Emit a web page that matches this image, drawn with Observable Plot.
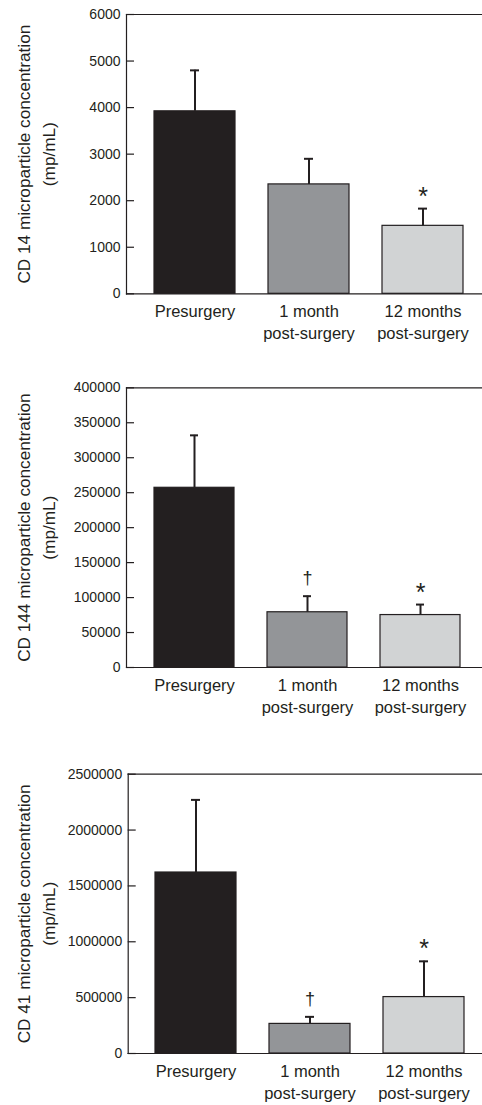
<!DOCTYPE html>
<html>
<head>
<meta charset="utf-8">
<script src="https://cdn.jsdelivr.net/npm/d3@7"></script>
<script src="https://cdn.jsdelivr.net/npm/@observablehq/plot@0.6"></script>
<style>
  body { margin: 0; background: #fff; }
  #charts svg { display: block; }
</style>
</head>
<body>
<div id="charts"></div>
<script>
// Time points shared by the three panels
const groups = ["Presurgery", "1 month\npost-surgery", "12 months\npost-surgery"];
const fills = ["#231f20", "#939598", "#d1d3d4"];

// CD 14 microparticles (mp/mL): mean and error
const cd14Mean = [3920, 2350, 1460];
const cd14Err = [880, 550, 370];
const cd14Sig = ["", "", "*"];
const cd14Ticks = [0, 1000, 2000, 3000, 4000, 5000, 6000];

// CD 144 microparticles (mp/mL)
const cd144Mean = [257000, 79000, 75000];
const cd144Err = [75000, 23000, 15000];
const cd144Sig = ["", "\u2020", "*"];
const cd144Ticks = [0, 50000, 100000, 150000, 200000, 250000, 300000, 350000, 400000];

// CD 41 microparticles (mp/mL)
const cd41Mean = [1620000, 265000, 505000];
const cd41Err = [650000, 63000, 320000];
const cd41Sig = ["", "\u2020", "*"];
const cd41Ticks = [0, 500000, 1000000, 1500000, 2000000, 2500000];

const ink = "#231f20";
const font = "'Liberation Sans', Arial, Helvetica, sans-serif";

function panel({title, mean, err, sig, ticks, height, marginTop, marginBottom, marginLeft, xRange}) {
  const rows = groups.map((g, i) => ({
    group: g, mean: mean[i], upper: mean[i] + err[i], sig: sig[i], fill: fills[i]
  }));
  const stars = rows.filter(d => d.sig === "*");
  const daggers = rows.filter(d => d.sig === "\u2020");
  return Plot.plot({
    width: 482,
    height,
    marginTop,
    marginBottom,
    marginLeft,
    marginRight: 0,
    style: {fontFamily: font, color: ink, background: "#fff", overflow: "visible"},
    x: {domain: groups, range: xRange, paddingInner: 0.29, paddingOuter: 0.24, label: null},
    y: {domain: [0, ticks[ticks.length - 1]], label: null},
    color: {type: "identity"},
    marks: [
      Plot.barY(rows, {x: "group", y: "mean", fill: "fill", stroke: ink, strokeWidth: 1.2}),
      // error bars with short caps
      Plot.ruleX(rows, {x: "group", y1: "mean", y2: "upper", stroke: ink, strokeWidth: 2}),
      Plot.tickY(rows, {x: "group", y: "upper", stroke: ink, strokeWidth: 2, inset: 36}),
      // significance markers above the error bars
      Plot.text(stars, {x: "group", y: "upper", text: "sig", dy: -12, fontSize: 25, fill: ink}),
      Plot.text(daggers, {x: "group", y: "upper", text: "sig", dy: -18, fontSize: 18, fill: ink}),
      Plot.frame({anchor: "top", stroke: ink, strokeWidth: 1.2}),
      Plot.frame({anchor: "bottom", stroke: ink, strokeWidth: 1.2}),
      Plot.frame({anchor: "left", stroke: ink, strokeWidth: 1.2}),
      Plot.axisY({ticks, tickSize: -8, tickPadding: 14, tickFormat: d3.format("d"), fontSize: 14, strokeWidth: 1.2, stroke: ink, fill: ink}),
      Plot.axisX({tickSize: 0, tickPadding: 8, fontSize: 16.5, lineHeight: 1.32, fill: ink}),
      Plot.text([title], {
        frameAnchor: "left", text: d => d, rotate: -90, dx: 34 - marginLeft,
        fontSize: 17.2, lineHeight: 1.47, lineAnchor: "middle", textAnchor: "middle", fill: ink
      })
    ]
  });
}

const root = document.getElementById("charts");
root.append(panel({
  title: "CD 14 microparticle concentration\n(mp/mL)",
  mean: cd14Mean, err: cd14Err, sig: cd14Sig, ticks: cd14Ticks,
  height: 360, marginTop: 14, marginBottom: 66.7, marginLeft: 126, xRange: [126.3, 490.4]
}));
root.append(panel({
  title: "CD 144 microparticle concentration\n(mp/mL)",
  mean: cd144Mean, err: cd144Err, sig: cd144Sig, ticks: cd144Ticks,
  height: 370, marginTop: 27.3, marginBottom: 63, marginLeft: 126, xRange: [125.5, 488.0]
}));
root.append(panel({
  title: "CD 41 microparticle concentration\n(mp/mL)",
  mean: cd41Mean, err: cd41Err, sig: cd41Sig, ticks: cd41Ticks,
  height: 375, marginTop: 43.7, marginBottom: 52, marginLeft: 127.7, xRange: [128.0, 491.7]
}));
</script>
</body>
</html>
